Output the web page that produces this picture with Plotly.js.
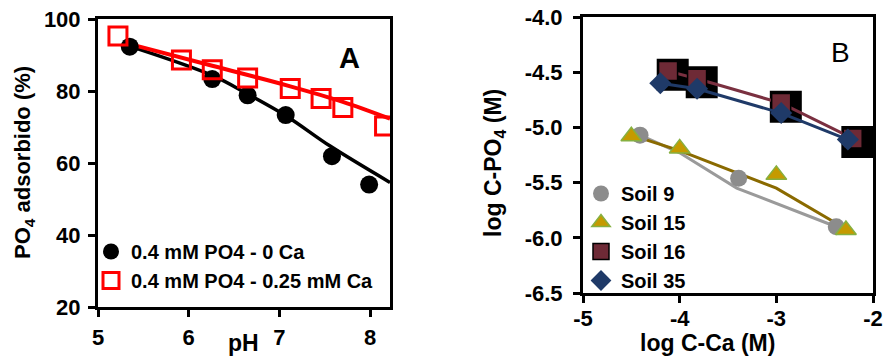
<!DOCTYPE html>
<html><head><meta charset="utf-8">
<script src="https://cdn.plot.ly/plotly-3.0.1.min.js"></script>
<style>html,body{margin:0;padding:0;background:#fff}</style>
</head><body><div id="chart" style="width:887px;height:356px"></div>
<script>
// ---- Panel A data ----
const phNoCa = [5.35, 6.26, 6.65, 7.07, 7.58, 7.99];
const adsNoCa = [92.3, 83.3, 78.8, 73.3, 61.9, 54.0];
const phCa = [5.22, 5.92, 6.26, 6.65, 7.12, 7.46, 7.70, 8.16];
const adsCa = [95.3, 88.6, 85.9, 83.6, 80.7, 77.9, 75.4, 70.3];
const fitPhNoCa = [5.39, 6.27, 6.64, 7.08, 7.56, 8.22];
const fitAdsNoCa = [92.1, 84.2, 79.3, 73.0, 64.7, 54.6];
const fitPhCa = [5.28, 6.26, 7.12, 7.70, 8.22];
const fitAdsCa = [93.5, 87.0, 81.3, 77.0, 72.3];
const xTicksA = [5, 6, 7, 8];
const yTicksA = [20, 40, 60, 80, 100];
const legendA = ['0.4 mM PO4 - 0 Ca', '0.4 mM PO4 - 0.25 mM Ca'];

// ---- Panel B data ----
const soil9X = [-4.41, -3.39, -2.38];
const soil9Y = [-5.07, -5.46, -5.90];
const soil9FitX = [-4.41, -4.00, -3.41, -2.38];
const soil9FitY = [-5.07, -5.23, -5.55, -5.90];
const soil15X = [-4.50, -4.00, -3.00, -2.28];
const soil15Y = [-5.08, -5.19, -5.43, -5.93];
const soil15FitX = [-4.50, -4.00, -3.00, -2.28];
const soil15FitY = [-5.07, -5.21, -5.55, -5.92];
const soil16X = [-4.12, -3.82, -2.95, -2.21];
const soil16Y = [-4.49, -4.56, -4.78, -5.10];
const soil35X = [-4.20, -3.82, -2.95, -2.26];
const soil35Y = [-4.60, -4.65, -4.87, -5.11];
const xTicksB = [-5, -4, -3, -2];
const xTickTextB = ['-5', '-4', '-3', '-2'];
const yTicksB = [-6.5, -6.0, -5.5, -5.0, -4.5, -4.0];
const yTickTextB = ['-6.5', '-6.0', '-5.5', '-5.0', '-4.5', '-4.0'];
const soilNames = ['Soil 9', 'Soil 15', 'Soil 16', 'Soil 35'];

const FONT = 'Liberation Sans, Arial, sans-serif';
const bold = arr => arr.map(v => '<b>' + v + '</b>');

const traces = [
  // Panel A
  {x: fitPhNoCa, y: fitAdsNoCa, xaxis: 'x', yaxis: 'y', mode: 'lines', line: {color: '#000', width: 3.5, shape: 'spline'}, showlegend: false, hoverinfo: 'skip'},
  {x: fitPhCa, y: fitAdsCa, xaxis: 'x', yaxis: 'y', mode: 'lines', line: {color: '#ff0000', width: 4, shape: 'spline'}, showlegend: false, hoverinfo: 'skip'},
  {x: phNoCa, y: adsNoCa, xaxis: 'x', yaxis: 'y', mode: 'markers', name: legendA[0], legend: 'legend',
   marker: {symbol: 'circle', size: 18, color: '#000'}},
  {x: phCa, y: adsCa, xaxis: 'x', yaxis: 'y', mode: 'markers', name: legendA[1], legend: 'legend',
   marker: {symbol: 'square-open', size: 18, color: '#ff0000', line: {color: '#ff0000', width: 3}}},
  // Panel B: shadow blobs behind Soil 16 (base subplot, slightly shifted range)
  {x: soil16X, y: soil16Y, xaxis: 'x2', yaxis: 'y2', mode: 'markers', showlegend: false, hoverinfo: 'skip',
   marker: {symbol: 'square', size: 29, color: '#000', line: {color: '#000', width: 3}}},
  // Panel B main traces
  {x: soil9FitX, y: soil9FitY, xaxis: 'x3', yaxis: 'y3', mode: 'lines', line: {color: '#9a9a9a', width: 3}, showlegend: false, hoverinfo: 'skip'},
  {x: soil15FitX, y: soil15FitY, xaxis: 'x3', yaxis: 'y3', mode: 'lines', line: {color: '#8a6a00', width: 3}, showlegend: false, hoverinfo: 'skip'},
  {x: soil9X, y: soil9Y, xaxis: 'x3', yaxis: 'y3', mode: 'markers', name: soilNames[0], legend: 'legend2',
   marker: {symbol: 'circle', size: 17, color: '#8c8c8c'}},
  {x: soil15X, y: soil15Y, xaxis: 'x3', yaxis: 'y3', mode: 'markers', name: soilNames[1], legend: 'legend2',
   marker: {symbol: 'triangle-up', size: 18, color: '#c59a00', line: {color: '#86b040', width: 1.5}}},
  {x: soil16X, y: soil16Y, xaxis: 'x3', yaxis: 'y3', mode: 'lines', line: {color: '#7a3040', width: 3}, showlegend: false, hoverinfo: 'skip'},
  {x: soil16X, y: soil16Y, xaxis: 'x3', yaxis: 'y3', mode: 'markers', name: soilNames[2], legend: 'legend2',
   marker: {symbol: 'square', size: 19, color: '#6e2a36', line: {color: '#000', width: 1.5}}},
  {x: soil35X, y: soil35Y, xaxis: 'x3', yaxis: 'y3', mode: 'lines', line: {color: '#1f3a68', width: 3}, showlegend: false, hoverinfo: 'skip'},
  {x: soil35X, y: soil35Y, xaxis: 'x3', yaxis: 'y3', mode: 'markers', name: soilNames[3], legend: 'legend2',
   marker: {symbol: 'diamond', size: 17, color: '#1f3a68'}}
];

const W = 887, H = 356;
const px = v => v / W, py = v => 1 - v / H;
const axCommon = {showline: true, linewidth: 3, linecolor: '#000', mirror: true, ticks: 'outside', ticklen: 7, tickwidth: 3,
  tickcolor: '#000', showgrid: false, zeroline: false, fixedrange: true, tickfont: {family: FONT, size: 22, color: '#000'}};

const ann = (x, y, text, size, extra) => Object.assign({xref: 'paper', yref: 'paper', x: px(x), y: py(y), text: text,
  showarrow: false, xanchor: 'center', yanchor: 'middle', font: {family: FONT, size: size, color: '#000'}}, extra || {});

const layout = {
  width: W, height: H, autosize: false,
  margin: {l: 0, r: 0, t: 0, b: 0},
  paper_bgcolor: '#fff', plot_bgcolor: 'rgba(0,0,0,0)',
  font: {family: FONT, size: 18, color: '#000'},
  xaxis: Object.assign({}, axCommon, {domain: [px(98), px(390)], range: [5, 8.22], tickvals: xTicksA, ticktext: bold(xTicksA), ticklabelstandoff: 2, anchor: 'y'}),
  yaxis: Object.assign({}, axCommon, {domain: [py(307), py(19)], range: [20, 100], tickvals: yTicksA, ticktext: bold(yTicksA), ticklabelstandoff: 3, anchor: 'x'}),
  xaxis2: {domain: [px(583), px(873)], range: [-5 - 0.048, -2 - 0.048], visible: false, anchor: 'y2', fixedrange: true},
  yaxis2: {domain: [py(293), py(17)], range: [-6.5 + 0.032, -4.0 + 0.032], visible: false, anchor: 'x2', fixedrange: true},
  xaxis3: Object.assign({}, axCommon, {overlaying: 'x2', range: [-5, -2], tickvals: xTicksB, ticktext: bold(xTickTextB), ticklabelstandoff: -3, anchor: 'y3'}),
  yaxis3: Object.assign({}, axCommon, {overlaying: 'y2', range: [-6.5, -4.0], tickvals: yTicksB, ticktext: bold(yTickTextB), ticklabelstandoff: 6, anchor: 'x3'}),
  legend: {x: px(91), y: py(232), xanchor: 'left', yanchor: 'top', bgcolor: 'rgba(0,0,0,0)', itemwidth: 30,
    font: {family: FONT, size: 20, color: '#000', weight: 'bold'}, tracegroupgap: 0},
  legend2: {x: px(581), y: py(174), xanchor: 'left', yanchor: 'top', bgcolor: 'rgba(0,0,0,0)', itemwidth: 30,
    font: {family: FONT, size: 20, color: '#000', weight: 'bold'}, tracegroupgap: 0},
  annotations: [
    ann(349, 58, '<b>A</b>', 29),
    ann(840, 53, 'B', 28),
    ann(244, 343, '<b>pH</b>', 23),
    ann(24, 163, '<b>PO<sub>4</sub> adsorbido (%)</b>', 22, {textangle: -90}),
    ann(707, 343, '<b>log C-Ca (M)</b>', 23),
    ann(495, 163, '<b>log C-PO<sub>4</sub> (M)</b>', 23, {textangle: -90})
  ]
};

Plotly.newPlot('chart', traces, layout, {staticPlot: true, displayModeBar: false});
</script></body></html>
